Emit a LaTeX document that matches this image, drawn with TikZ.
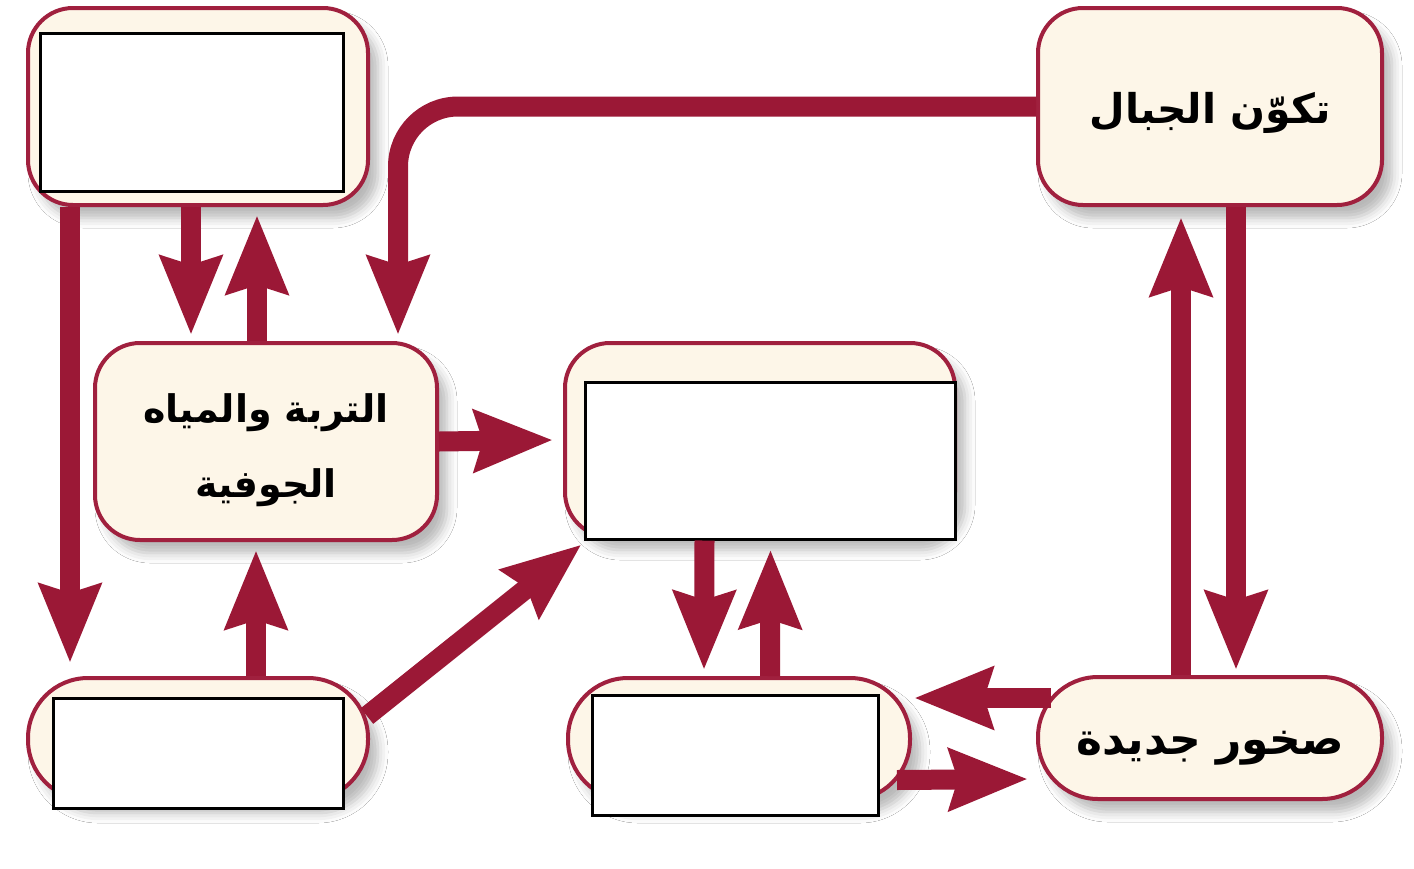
\documentclass[tikz,border=0pt]{standalone}
\usepackage{fontspec}
\newfontfamily\arabicfont[Script=Arabic]{DejaVu Sans}
\TeXXeTstate=1
\usetikzlibrary{arrows.meta,calc,shadows.blur}
\definecolor{crimson}{RGB}{155,24,54}
\definecolor{boxedge}{RGB}{160,32,62}
\definecolor{cream}{RGB}{253,246,232}
\tikzset{
  bx/.style={draw=boxedge, line width=4pt, fill=cream, rounded corners=45pt,
    blur shadow={shadow xshift=10pt, shadow yshift=-13pt, shadow blur radius=10pt, shadow opacity=28},
    inner sep=0pt, align=center},
  pill/.style={bx, rounded corners=60pt},
  wbox/.style={draw=black, line width=3pt, fill=white, inner sep=0pt},
  arr/.style={draw=crimson, line width=20pt,
    -{Stealth[length=78pt, width=60pt, inset=8pt]}},
}
\begin{document}
\begin{tikzpicture}[x=1pt,y=-1pt]
\useasboundingbox (0,0) rectangle (1414,868);
\fill[white] (0,0) rectangle (1414,868);
% boxes
\node[bx, minimum width=340pt, minimum height=197pt] (A) at (198,106.5) {};
\node[bx, minimum width=344pt, minimum height=197pt,
  font=\arabicfont\bfseries\fontsize{41}{50}\selectfont] (B) at (1210,106.5)
  {\raisebox{-17pt}[0pt][0pt]{\beginR تكوّن الجبال\endR}};
\node[bx, minimum width=342pt, minimum height=197pt,
  font=\arabicfont\bfseries\fontsize{38}{74}\selectfont] (C) at (266,441.5)
  {\raisebox{-10pt}[0pt][0pt]{\begin{tabular}{@{}c@{}}\beginR التربة والمياه\endR\\[1pt]\beginR الجوفية\endR\end{tabular}}};
\node[bx, minimum width=390pt, minimum height=194pt] (D) at (760,440) {};
\node[pill, minimum width=340pt, minimum height=122pt] (E) at (198,739) {};
\node[pill, minimum width=342pt, minimum height=122pt] (F) at (739,739) {};
\node[pill, minimum width=344pt, minimum height=122pt,
  font=\arabicfont\bfseries\fontsize{44}{52}\selectfont] (G) at (1210,738)
  {\raisebox{-16pt}[0pt][0pt]{\beginR صخور جديدة\endR}};
% white answer boxes
\node[wbox, minimum width=303pt, minimum height=158pt] (wA) at (191.5,112) {};
\node[wbox, minimum width=370pt, minimum height=157pt] (wD) at (770,460.5) {};
\node[wbox, minimum width=290pt, minimum height=110pt] (wE) at (198,753) {};
\node[wbox, minimum width=286pt, minimum height=120pt] (wF) at (735,755) {};
% arrows
\draw[arr] ($(A.south west)+(44,0)$) -- ($(E.north west)+(44,-13)$);
\draw[arr] ($(A.south west)+(165,0)$) -- ($(C.north west)+(98,-6)$);
\draw[arr] ($(C.north west)+(164,0)$) -- ($(A.south west)+(231,8)$);
\draw[arr, rounded corners=60pt] (B.west) -| ($(C.north west)+(305,-6)$);
\draw[arr] (C.east) -- ($(D.west)+(-10,0)$);
\draw[arr] ($(E.north west)+(230,0)$) -- ($(C.south west)+(163,8)$);
\draw[arr] ($(E.north east)+(-3,40)$) -- ($(wD.south west)+(-2,4)$);
\draw[arr] ($(wD.south west)+(121,0)$) -- ($(F.north west)+(138,-6)$);
\draw[arr] ($(F.north west)+(204,0)$) -- ($(wD.south west)+(187,9)$);
\draw[arr] ($(G.north west)+(15,23)$) -- ($(F.north east)+(2,22)$);
\draw[arr] ($(F.south east)+(-15,-22)$) -- ($(G.south west)+(-8,-22)$);
\draw[arr] ($(G.north west)+(145,0)$) -- ($(B.south west)+(145,10)$);
\draw[arr] ($(B.south west)+(200,0)$) -- ($(G.north west)+(200,-5)$);
\end{tikzpicture}
\end{document}
